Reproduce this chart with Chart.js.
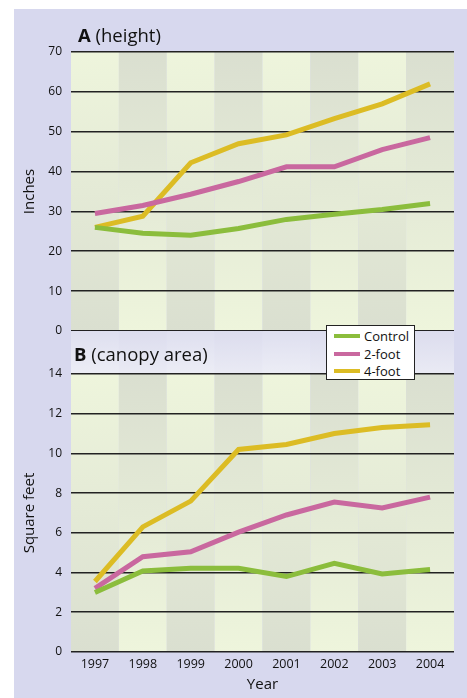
<!DOCTYPE html>
<html><head><meta charset="utf-8">
<script src="https://cdn.jsdelivr.net/npm/chart.js@4"></script>
<style>
html,body{margin:0;padding:0;background:#fff;}
body{width:467px;height:698px;overflow:hidden;position:relative;font-family:"Open Sans",sans-serif;color:#111;}
#bg{position:absolute;left:14px;top:9px;width:453px;height:689px;background:#d7d8ee;}
canvas{position:absolute;}
#cA{left:14px;top:9px;}
#cB{left:14px;top:331px;}
.ptitle{position:absolute;font-size:18.5px;line-height:22px;white-space:nowrap;}
.ptitle b{font-weight:700;}
#tA{left:78px;top:24px;}
#tB{left:74px;top:343px;}
#legend{position:absolute;left:326px;top:325px;width:87px;height:53px;background:#fff;border:1px solid #222;}
.li{position:absolute;left:7px;height:16px;font-size:13px;line-height:16px;white-space:nowrap;}
.li span.sw{position:absolute;left:0;top:6px;width:26px;height:4px;}
.li span.tx{position:absolute;left:30px;top:0;}
</style></head>
<body>
<div id="bg"></div>
<canvas id="cA" width="453" height="339"></canvas>
<canvas id="cB" width="453" height="367"></canvas>
<div class="ptitle" id="tA"><b>A</b> (height)</div>
<div class="ptitle" id="tB"><b>B</b> (canopy area)</div>
<div id="legend"></div>
<script>
const years = ['1997','1998','1999','2000','2001','2002','2003','2004'];
const seriesNames = ['Control','2-foot','4-foot'];
const seriesColors = ['#8bbd3c','#c9689f','#dcbc24'];
const heightControl = [26, 24.5, 24, 25.7, 28, 29.3, 30.5, 32];
const height2ft = [29.5, 31.5, 34.3, 37.5, 41.2, 41.2, 45.5, 48.5];
const height4ft = [26, 28.8, 42.2, 47, 49.2, 53.3, 57, 62];
const canopyControl = [3.0, 4.08, 4.22, 4.22, 3.8, 4.47, 3.93, 4.15];
const canopy2ft = [3.2, 4.8, 5.05, 6.04, 6.9, 7.55, 7.25, 7.8];
const canopy4ft = [3.55, 6.3, 7.6, 10.2, 10.45, 11.0, 11.3, 11.45];
const heightTicks = {min:0, max:70, step:10};
const canopyTicks = {min:0, max:14, step:2};

const FONT = '"Open Sans", sans-serif';
const LIGHT = '#eef5dc', DARK = '#dadfd0';

const bandsPlugin = {
  id:'bands',
  beforeDraw(chart, args, opts){
    const {ctx, chartArea:a} = chart;
    const x = chart.scales.x;
    const n = chart.data.labels.length;
    const w = (a.right - a.left)/n;
    const top = opts.stripTop != null ? opts.stripTop : a.top;
    ctx.save();
    for(let i=0;i<n;i++){
      const cx = x.getPixelForValue(i);
      const g = ctx.createLinearGradient(0,a.top,0,a.bottom);
      if(i%2===0){g.addColorStop(0,LIGHT);g.addColorStop(1,DARK);}
      else {g.addColorStop(0,DARK);g.addColorStop(1,LIGHT);}
      ctx.fillStyle=g;
      ctx.fillRect(cx-w/2, top, w, a.bottom-top);
    }
    if(opts.stripTop != null){
      const g2 = ctx.createLinearGradient(0,top,0,a.top);
      g2.addColorStop(0,'rgba(220,220,242,0.88)');
      g2.addColorStop(1,'rgba(236,236,249,0.88)');
      ctx.fillStyle=g2;
      ctx.fillRect(a.left, top, a.right-a.left, a.top-top);
    }
    ctx.restore();
  }
};

function makeDatasets(vals){
  return vals.map((v,i)=>({label:seriesNames[i], data:v, borderColor:seriesColors[i],
    backgroundColor:seriesColors[i], borderWidth:5, pointRadius:0, tension:0,
    borderCapStyle:'butt', fill:false}));
}

function makeOptions(t, yTitle, showX, padBottom, stripTop){
  return {
    responsive:false, animation:false,
    layout:{padding:{left:0,right:13,top:43,bottom:padBottom}},
    plugins:{legend:{display:false}, title:{display:false}, tooltip:{enabled:false},
      bands:{stripTop:stripTop}},
    scales:{
      x:{type:'category', offset:true, display:showX,
        grid:{display:false, drawTicks:false}, border:{display:false},
        ticks:{color:'#111', font:{family:FONT,size:12.5}, padding:5, maxRotation:0},
        title:{display:showX, text:'Year', color:'#111', font:{family:FONT,size:15}, padding:{top:0,bottom:4}},
        afterFit(s){ if(showX) s.height=46; }
      },
      y:{min:t.min, max:t.max,
        grid:{color:'#222', lineWidth:1.6, drawTicks:false},
        border:{display:false},
        ticks:{stepSize:t.step, color:'#111', font:{family:FONT,size:12}, padding:9},
        title:{display:true, text:yTitle, color:'#111', font:{family:FONT,size:15}, padding:{top:7,bottom:0}},
        afterFit(s){ s.width=57; }
      }
    }
  };
}

new Chart(document.getElementById('cA'), {
  type:'line',
  data:{labels:years, datasets:makeDatasets([heightControl,height2ft,height4ft])},
  options:makeOptions(heightTicks,'Inches',false,17,null),
  plugins:[bandsPlugin]
});
new Chart(document.getElementById('cB'), {
  type:'line',
  data:{labels:years, datasets:makeDatasets([canopyControl,canopy2ft,canopy4ft])},
  options:makeOptions(canopyTicks,'Square feet',true,0,0),
  plugins:[bandsPlugin]
});

const leg = document.getElementById('legend');
seriesNames.forEach((n,i)=>{
  const d=document.createElement('div'); d.className='li';
  d.style.top=(2+i*17.5)+'px';
  d.innerHTML='<span class="sw" style="background:'+seriesColors[i]+'"></span><span class="tx">'+n+'</span>';
  leg.appendChild(d);
});
</script>
</body></html>
